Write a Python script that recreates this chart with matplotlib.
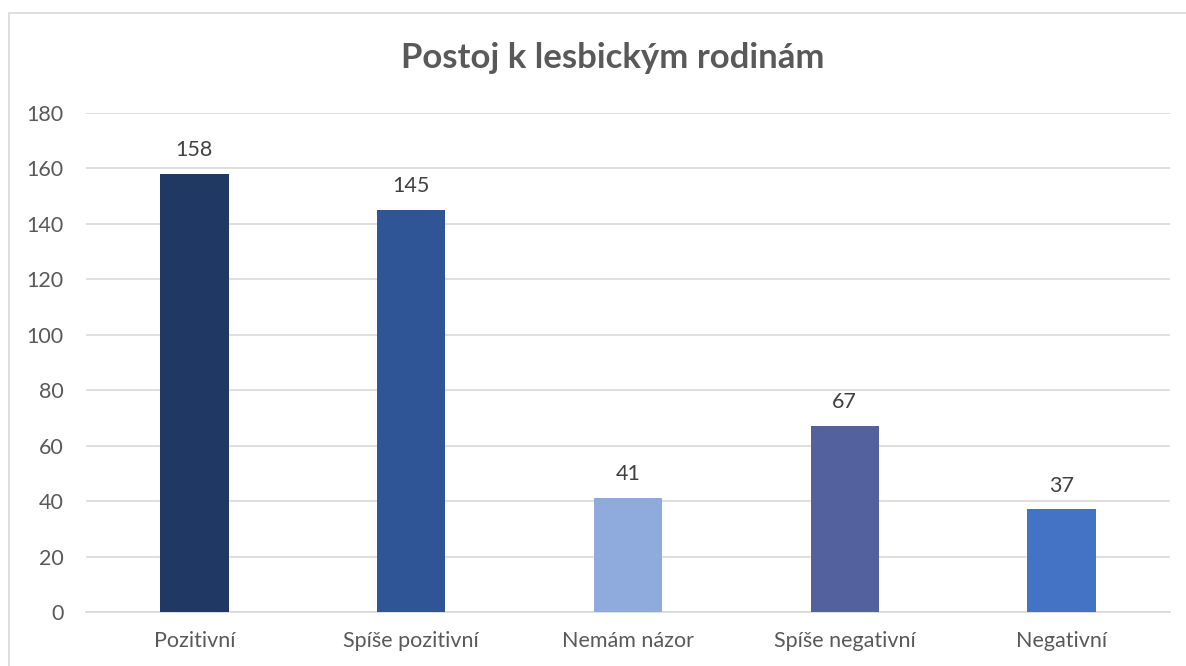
import matplotlib.pyplot as plt
from matplotlib.patches import Rectangle

categories = ["Pozitivní", "Spíše pozitivní", "Nemám názor", "Spíše negativní", "Negativní"]
values = [158, 145, 41, 67, 37]
colors = ["#203864", "#2F5597", "#8FAADC", "#53629E", "#4472C4"]
yticks = [0, 20, 40, 60, 80, 100, 120, 140, 160, 180]

TEXT = "#595959"
plt.rcParams["font.family"] = ["Lato", "DejaVu Sans"]

fig = plt.figure(figsize=(11.86, 6.66), dpi=100)
fig.patches.append(Rectangle((9 / 1186, -0.1), 1.2, 1 - 13 / 666 + 0.1,
                             transform=fig.transFigure, fill=False,
                             edgecolor="#D9D9D9", linewidth=1.2))

ax = fig.add_axes([86 / 1186, 1 - 612 / 666, (1170 - 86) / 1186, (612 - 113) / 666])
x = range(len(categories))
bars = ax.bar(x, values, width=0.315, color=colors, zorder=3)
for b, v in zip(bars, values):
    ax.text(b.get_x() + b.get_width() / 2, v + 5, str(v), ha="center", va="bottom",
            fontsize=15.5, color="#404040")

ax.set_xlim(-0.5, len(categories) - 0.5)
ax.set_ylim(0, 180)
ax.set_yticks(yticks)
ax.set_xticks(list(x))
ax.set_xticklabels(categories)
ax.tick_params(axis="both", length=0, labelsize=15.5, labelcolor=TEXT)
ax.tick_params(axis="y", pad=16)
ax.tick_params(axis="x", pad=14)
ax.grid(axis="y", color="#D9D9D9", linewidth=1.2, zorder=0)
for s in ["top", "right", "left"]:
    ax.spines[s].set_visible(False)
ax.spines["bottom"].set_color("#D9D9D9")
ax.spines["bottom"].set_linewidth(1.2)

fig.text(613 / 1186, 1 - 58 / 666, "Postoj k lesbickým rodinám", ha="center", va="center",
         fontsize=25, fontweight="bold", color=TEXT)

fig.savefig("out.png", dpi=100)
